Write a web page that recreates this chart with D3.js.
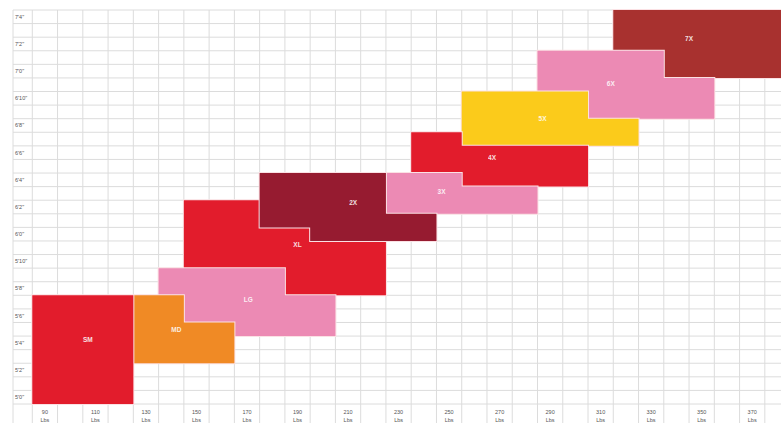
<!DOCTYPE html>
<html>
<head>
<meta charset="utf-8">
<script src="https://cdn.jsdelivr.net/npm/d3@7"></script>
<style>
  body { margin: 0; background: #fff; }
  svg { display: block; font-family: "Liberation Sans", Arial, sans-serif; }
</style>
</head>
<body>
<svg id="chart" width="781" height="423"></svg>
<script>
// sizes in drawing order (later ones sit on top)
var sizes   = ["7X", "6X", "5X", "4X", "3X", "XL", "2X", "LG", "MD", "SM"];
var colors  = ["#a8312f", "#ec8ab4", "#fbcb1b", "#e21c2c", "#ec8ab4", "#e21c2c", "#961b30", "#ec8ab4", "#f08a25", "#e21c2c"];
// each size is two blocks: [lbsFrom, lbsTo, inchFrom, inchTo]
var blockA  = [[315, 335, 85.5, 88.5], [285, 335, 82.5, 85.5], [255, 305, 78.5, 82.5], [235, 255, 76.5, 79.5],
               [225, 255, 73.5, 76.5], [145, 175, 69.5, 74.5], [175, 225, 72.5, 76.5], [135, 185, 64.5, 69.5],
               [125, 145, 62.5, 67.5], [85, 125, 59.5, 67.5]];
var blockB  = [[335, 395, 83.5, 88.5], [305, 355, 80.5, 83.5], [305, 325, 78.5, 80.5], [255, 305, 75.5, 78.5],
               [255, 285, 73.5, 75.5], [175, 225, 67.5, 72.5], [195, 245, 71.5, 73.5], [185, 205, 64.5, 67.5],
               [145, 165, 62.5, 65.5], [85, 125, 59.5, 67.5]];
// where the size name sits (lbs, inches)
var labelLbs = [345, 314, 287, 267, 247, 190, 212, 170.5, 142, 107];
var labelIn  = [86.4, 83.1, 80.5, 77.6, 75.1, 71.2, 74.3, 67.2, 65, 64.2];

var lbsTicks    = d3.range(90, 371, 20);
var heightTicks = d3.range(60, 89, 2);

var svg = d3.select("#chart");

var x = d3.scaleLinear().domain([85, 395]).range([32.3, 32.3 + 310 * 2.526]);
var y = d3.scaleLinear().domain([59.5, 88.5]).range([404, 10]);

//grid
var grid = svg.append("g").attr("class", "grid")
    .attr("stroke", "#dcdcdc")
    .attr("stroke-width", 1);

grid.selectAll(".vline")
    .data(d3.range(85, 386, 10))
    .enter().append("line")
    .attr("x1", function(d) { return x(d); })
    .attr("x2", function(d) { return x(d); })
    .attr("y1", y(88.5))
    .attr("y2", 423);

grid.selectAll(".hline")
    .data(d3.range(59.5, 88.6, 1))
    .enter().append("line")
    .attr("x1", 13)
    .attr("x2", 781)
    .attr("y1", function(d) { return y(d); })
    .attr("y2", function(d) { return y(d); });

grid.append("line")
    .attr("x1", 13).attr("x2", 13)
    .attr("y1", y(88.5)).attr("y2", 423);

//size shapes
function blocks(i) { return [blockA[i], blockB[i]]; }

// both blocks as one path so there is no seam between them
function blockPath(i) {
  var p = d3.path();
  blocks(i).forEach(function(b) {
    p.rect(x(b[0]), y(b[3]), x(b[1]) - x(b[0]), y(b[2]) - y(b[3]));
  });
  return p.toString();
}

var shapes = svg.selectAll(".size")
    .data(sizes)
    .enter().append("g")
    .attr("class", "size");

// outline first, fill on top so only the outer edge of the outline shows
shapes.append("path")
    .attr("d", function(d, i) { return blockPath(i); })
    .attr("fill", "none")
    .attr("stroke", "#fbe1e4")
    .attr("stroke-width", 2);

shapes.append("path")
    .attr("d", function(d, i) { return blockPath(i); })
    .attr("fill", function(d, i) { return colors[i]; });

shapes.append("text")
    .attr("x", function(d, i) { return x(labelLbs[i]); })
    .attr("y", function(d, i) { return y(labelIn[i]); })
    .attr("dy", "0.35em")
    .attr("text-anchor", "middle")
    .attr("fill", "#fff")
    .attr("font-size", 6.5)
    .attr("font-weight", "bold")
    .attr("opacity", 0.85)
    .text(function(d) { return d; });

//y labels
function feet(d) { return Math.floor(d / 12) + "'" + (d % 12) + "\""; }

svg.selectAll(".ylab")
    .data(heightTicks)
    .enter().append("text")
    .attr("class", "ylab")
    .attr("x", 15)
    .attr("y", function(d) { return y(d); })
    .attr("dy", "0.35em")
    .attr("font-size", 5.5)
    .attr("fill", "#555")
    .text(feet);

//x labels
var xl = svg.selectAll(".xlab")
    .data(lbsTicks)
    .enter().append("text")
    .attr("class", "xlab")
    .attr("text-anchor", "middle")
    .attr("font-size", 5.5)
    .attr("fill", "#555");

xl.append("tspan")
    .attr("x", function(d) { return x(d); })
    .attr("y", 414)
    .text(function(d) { return d; });
xl.append("tspan")
    .attr("x", function(d) { return x(d); })
    .attr("y", 421.5)
    .text("Lbs");
</script>
</body>
</html>
